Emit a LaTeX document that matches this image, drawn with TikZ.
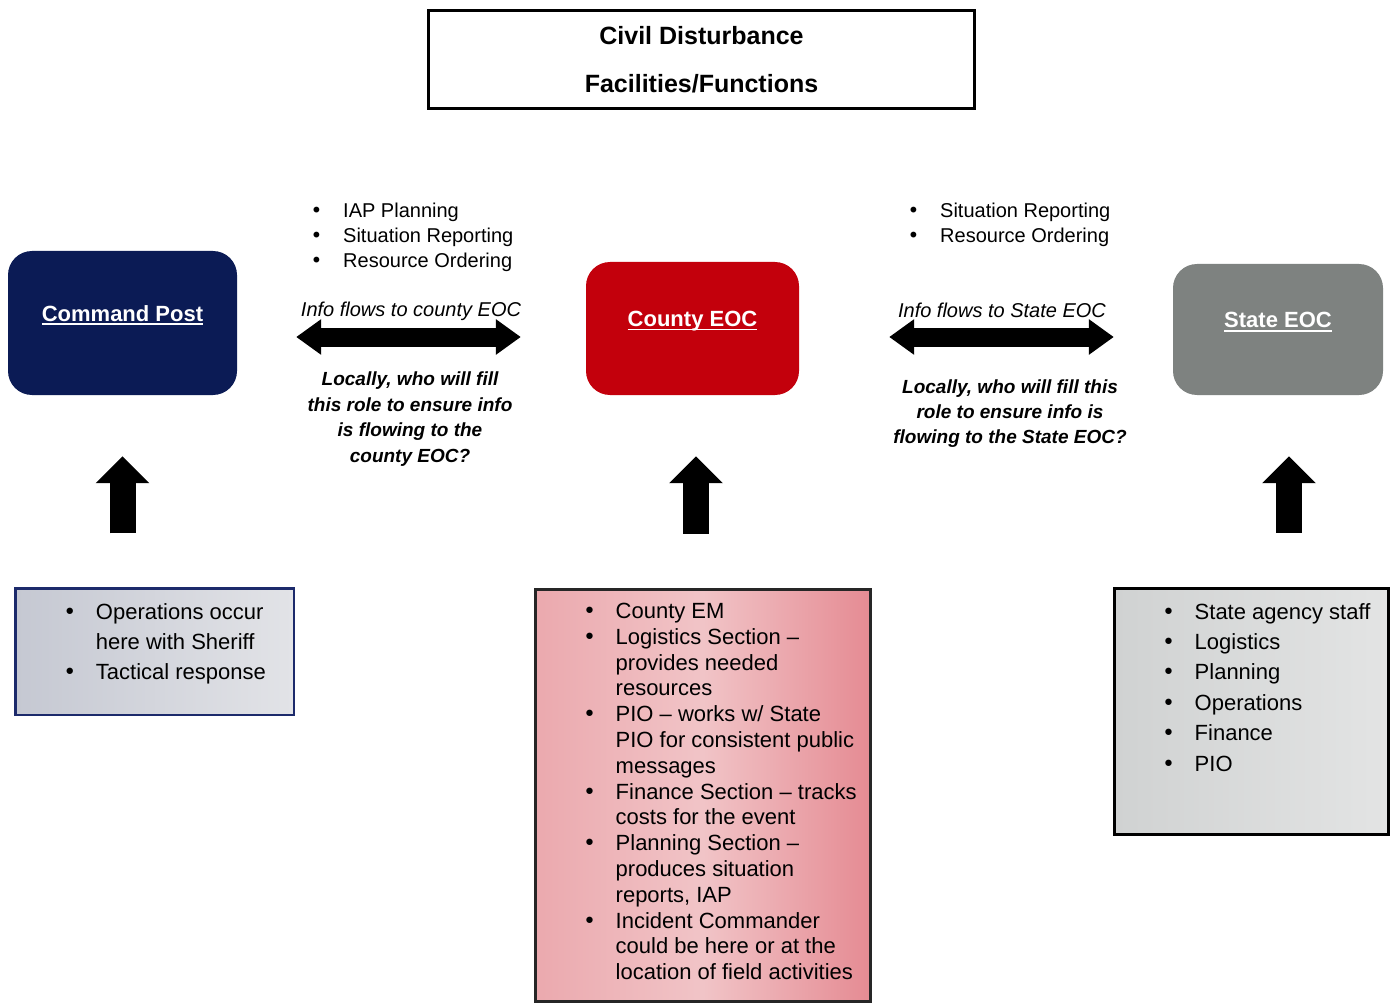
\documentclass[tikz,border=0pt]{standalone}
\usepackage{fontspec}
\setmainfont{Liberation Sans}
\newfontfamily\dejavu{DejaVu Sans}
\usetikzlibrary{arrows.meta,positioning}
\definecolor{navy}{HTML}{0B1B55}
\definecolor{eocred}{HTML}{C3000C}
\definecolor{stategray}{HTML}{7E8280}
\definecolor{navyline}{HTML}{1C2A6B}
\definecolor{bluegrayA}{HTML}{C5C8D2}
\definecolor{bluegrayB}{HTML}{E2E3E7}
\definecolor{pinkA}{HTML}{EBA9AE}
\definecolor{pinkM}{HTML}{F1C4C7}
\definecolor{pinkB}{HTML}{E58B93}
\definecolor{lightgrayA}{HTML}{D0D2D2}
\definecolor{lightgrayB}{HTML}{E3E4E4}
\newlength\undlwd
\newcommand\undl[1]{\settowidth\undlwd{#1}#1\llap{\rule[-4pt]{\undlwd}{1.8pt}}}
\newcommand\bul{\makebox[31.5pt][l]{\hspace*{-1pt}{\dejavu •}}}
\newcommand\bulind{\hspace*{31.5pt}}

\begin{document}
\begin{tikzpicture}[x=1pt,y=-1pt,
  hub/.style={rounded corners=24pt,text=white,font=\fontsize{22}{26}\selectfont\bfseries,text height=16pt,text depth=20pt,inner sep=0pt},
  infobox/.style={outer sep=0pt,inner sep=0pt},
  bullets/.style={align=left,inner sep=0pt},
  flow/.style={line width=19pt,{Triangle[width=34pt,length=25pt]}-{Triangle[width=34pt,length=25pt]}},
  uparrow/.style={line width=26pt,-{Triangle[width=52pt,length=27pt]}},
  flowlabel/.style={font=\fontsize{20}{25}\selectfont\itshape,inner sep=0pt},
  question/.style={align=center,font=\fontsize{19}{25.4}\selectfont\bfseries\itshape,inner sep=0pt}]
\path[fill=white,use as bounding box] (0,0) rectangle (1393,1003);
% title
\node[draw,line width=3pt,minimum width=546pt,minimum height=98pt,align=center,font=\fontsize{25}{48}\selectfont\bfseries] (title) at (701.5,59.5) {Civil Disturbance\\Facilities/Functions};
% facilities
\node[hub,fill=navy,minimum width=229pt,minimum height=144pt] (cp) at (122.5,323) {\undl{Command Post}};
\node[hub,fill=eocred,minimum width=213pt,minimum height=133pt] (ceoc) at (692.5,328.5) {\undl{County EOC}};
\node[hub,fill=stategray,minimum width=210pt,minimum height=131pt] (seoc) at (1278,329.5) {\undl{State EOC}};
% info flow between them
\node[bullets,anchor=north west,font=\fontsize{20}{25}\selectfont] (cpflowlist) at (311.5,203) {\bul IAP Planning\\\bul Situation Reporting\\\bul Resource Ordering};
\node[bullets,anchor=north west,font=\fontsize{20}{25}\selectfont] (seocflowlist) at (908.5,203) {\bul Situation Reporting\\\bul Resource Ordering};
\node[flowlabel] (cplabel) at (411,311) {Info flows to county EOC};
\node[flowlabel] (seoclabel) at (1002,310) {Info flows to State EOC};
\node[question] (cpq) at (410,419) {Locally, who will fill\\this role to ensure info\\is flowing to the\\county EOC?};
\node[question] (seocq) at (1010,413.5) {Locally, who will fill this\\role to ensure info is\\flowing to the State EOC?};
\coordinate (cpflow) at ([yshift=-14pt]cp.east);
\coordinate (ceocflow) at ([yshift=-8.5pt]ceoc.east);
\draw[flow,shorten <=59pt,shorten >=65pt] (cpflow) -- (cpflow -| ceoc.west);
\draw[flow,shorten <=90pt,shorten >=59pt] (ceocflow) -- (ceocflow -| seoc.west);
% functions
\node[infobox,draw=navyline,line width=2.5pt,left color=bluegrayA,right color=bluegrayB,minimum width=278.5pt,minimum height=126.5pt] (cpbox) at (154.5,651.5) {};
\node[infobox,draw=black!85,line width=3pt,left color=pinkA,right color=pinkB,middle color=pinkM,minimum width=335pt,minimum height=412pt] (ceocbox) at (703,795.5) {};
\node[infobox,draw=black,line width=3pt,left color=lightgrayA,right color=lightgrayB,minimum width=274pt,minimum height=246pt] (seocbox) at (1251.5,711.5) {};
\node[bullets,font=\fontsize{22}{30}\selectfont,below right=15pt and 49pt of cpbox.north west] (cplist) {\bul Operations occur\\\bulind here with Sheriff\\\bul Tactical response};
\node[bullets,font=\fontsize{22}{25.8}\selectfont,below right=13.5pt and 48.5pt of ceocbox.north west] (ceoclist) {\bul County EM\\\bul Logistics Section --\\\bulind provides needed\\\bulind resources\\\bul PIO -- works w/ State\\\bulind PIO for consistent public\\\bulind messages\\\bul Finance Section -- tracks\\\bulind costs for the event\\\bul Planning Section --\\\bulind produces situation\\\bulind reports, IAP\\\bul Incident Commander\\\bulind could be here or at the\\\bulind location of field activities};
\node[bullets,font=\fontsize{22}{30.4}\selectfont,below right=14.5pt and 48.5pt of seocbox.north west] (seoclist) {\bul State agency staff\\\bul Logistics\\\bul Planning\\\bul Operations\\\bul Finance\\\bul PIO};
\coordinate (ceoctip) at ([xshift=3.5pt]ceoc.south);
\coordinate (seoctip) at ([xshift=11pt]seoc.south);
\draw[uparrow,shorten <=55pt,shorten >=61pt] (cp.south |- cpbox.north) -- (cp.south);
\draw[uparrow,shorten <=56pt,shorten >=61pt] (ceoctip |- ceocbox.north) -- (ceoctip);
\draw[uparrow,shorten <=56pt,shorten >=61pt] (seoctip |- seocbox.north) -- (seoctip);
\end{tikzpicture}
\end{document}
